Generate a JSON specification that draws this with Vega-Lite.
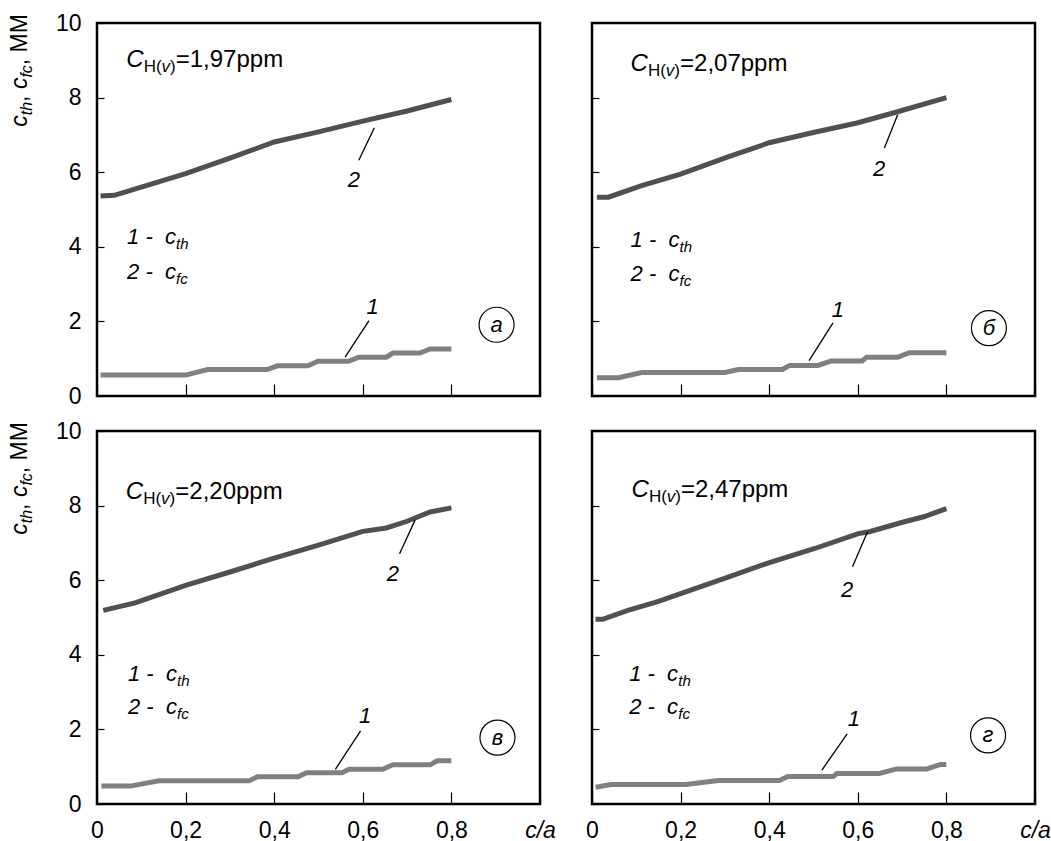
{
"$schema": "https://vega.github.io/schema/vega-lite/v6.json",
"padding": {"left": 8, "top": 10, "right": 5, "bottom": 2},
"background": "white",
"config": {
  "font": "Liberation Sans",
  "view": {"stroke": "black", "strokeWidth": 2.5},
  "axis": {"grid": false, "domain": false, "tickColor": "black", "tickWidth": 1.2, "labelColor": "black", "labelFont": "Liberation Sans", "labelFontSize": 23, "labelOverlap": false, "labelFlush": false, "labelBound": false}
},
"datasets": {
"rows": [
{"p":"a","k":"c","s":"2","x":0.008,"y":5.36},{"p":"a","k":"c","s":"2","x":0.039,"y":5.38},{"p":"a","k":"c","s":"2","x":0.10,"y":5.60},{"p":"a","k":"c","s":"2","x":0.2,"y":5.96},{"p":"a","k":"c","s":"2","x":0.30,"y":6.38},{"p":"a","k":"c","s":"2","x":0.40,"y":6.81},{"p":"a","k":"c","s":"2","x":0.50,"y":7.08},{"p":"a","k":"c","s":"2","x":0.60,"y":7.37},{"p":"a","k":"c","s":"2","x":0.70,"y":7.64},{"p":"a","k":"c","s":"2","x":0.80,"y":7.95},
{"p":"a","k":"c","s":"1","x":0.008,"y":0.56},{"p":"a","k":"c","s":"1","x":0.2,"y":0.56},{"p":"a","k":"c","s":"1","x":0.25,"y":0.71},{"p":"a","k":"c","s":"1","x":0.384,"y":0.71},{"p":"a","k":"c","s":"1","x":0.407,"y":0.81},{"p":"a","k":"c","s":"1","x":0.476,"y":0.81},{"p":"a","k":"c","s":"1","x":0.499,"y":0.93},{"p":"a","k":"c","s":"1","x":0.568,"y":0.93},{"p":"a","k":"c","s":"1","x":0.591,"y":1.04},{"p":"a","k":"c","s":"1","x":0.653,"y":1.04},{"p":"a","k":"c","s":"1","x":0.668,"y":1.15},{"p":"a","k":"c","s":"1","x":0.729,"y":1.15},{"p":"a","k":"c","s":"1","x":0.752,"y":1.26},{"p":"a","k":"c","s":"1","x":0.80,"y":1.26},
{"p":"b","k":"c","s":"2","x":0.011,"y":5.33},{"p":"b","k":"c","s":"2","x":0.037,"y":5.33},{"p":"b","k":"c","s":"2","x":0.112,"y":5.64},{"p":"b","k":"c","s":"2","x":0.2,"y":5.95},{"p":"b","k":"c","s":"2","x":0.307,"y":6.41},{"p":"b","k":"c","s":"2","x":0.4,"y":6.79},{"p":"b","k":"c","s":"2","x":0.502,"y":7.07},{"p":"b","k":"c","s":"2","x":0.598,"y":7.32},{"p":"b","k":"c","s":"2","x":0.69,"y":7.62},{"p":"b","k":"c","s":"2","x":0.8,"y":8.0},
{"p":"b","k":"c","s":"1","x":0.011,"y":0.49},{"p":"b","k":"c","s":"1","x":0.06,"y":0.49},{"p":"b","k":"c","s":"1","x":0.112,"y":0.63},{"p":"b","k":"c","s":"1","x":0.30,"y":0.63},{"p":"b","k":"c","s":"1","x":0.33,"y":0.71},{"p":"b","k":"c","s":"1","x":0.43,"y":0.71},{"p":"b","k":"c","s":"1","x":0.446,"y":0.82},{"p":"b","k":"c","s":"1","x":0.51,"y":0.82},{"p":"b","k":"c","s":"1","x":0.54,"y":0.94},{"p":"b","k":"c","s":"1","x":0.61,"y":0.94},{"p":"b","k":"c","s":"1","x":0.62,"y":1.04},{"p":"b","k":"c","s":"1","x":0.69,"y":1.04},{"p":"b","k":"c","s":"1","x":0.716,"y":1.16},{"p":"b","k":"c","s":"1","x":0.80,"y":1.16},
{"p":"v","k":"c","s":"2","x":0.014,"y":5.19},{"p":"v","k":"c","s":"2","x":0.086,"y":5.39},{"p":"v","k":"c","s":"2","x":0.2,"y":5.86},{"p":"v","k":"c","s":"2","x":0.30,"y":6.22},{"p":"v","k":"c","s":"2","x":0.40,"y":6.59},{"p":"v","k":"c","s":"2","x":0.50,"y":6.94},{"p":"v","k":"c","s":"2","x":0.60,"y":7.31},{"p":"v","k":"c","s":"2","x":0.653,"y":7.40},{"p":"v","k":"c","s":"2","x":0.70,"y":7.58},{"p":"v","k":"c","s":"2","x":0.752,"y":7.83},{"p":"v","k":"c","s":"2","x":0.80,"y":7.94},
{"p":"v","k":"c","s":"1","x":0.01,"y":0.48},{"p":"v","k":"c","s":"1","x":0.075,"y":0.48},{"p":"v","k":"c","s":"1","x":0.14,"y":0.62},{"p":"v","k":"c","s":"1","x":0.343,"y":0.62},{"p":"v","k":"c","s":"1","x":0.362,"y":0.73},{"p":"v","k":"c","s":"1","x":0.454,"y":0.73},{"p":"v","k":"c","s":"1","x":0.473,"y":0.84},{"p":"v","k":"c","s":"1","x":0.553,"y":0.84},{"p":"v","k":"c","s":"1","x":0.569,"y":0.93},{"p":"v","k":"c","s":"1","x":0.645,"y":0.93},{"p":"v","k":"c","s":"1","x":0.668,"y":1.05},{"p":"v","k":"c","s":"1","x":0.752,"y":1.05},{"p":"v","k":"c","s":"1","x":0.768,"y":1.16},{"p":"v","k":"c","s":"1","x":0.80,"y":1.16},
{"p":"g","k":"c","s":"2","x":0.008,"y":4.95},{"p":"g","k":"c","s":"2","x":0.024,"y":4.95},{"p":"g","k":"c","s":"2","x":0.081,"y":5.19},{"p":"g","k":"c","s":"2","x":0.15,"y":5.43},{"p":"g","k":"c","s":"2","x":0.2,"y":5.64},{"p":"g","k":"c","s":"2","x":0.304,"y":6.07},{"p":"g","k":"c","s":"2","x":0.397,"y":6.46},{"p":"g","k":"c","s":"2","x":0.503,"y":6.85},{"p":"g","k":"c","s":"2","x":0.601,"y":7.25},{"p":"g","k":"c","s":"2","x":0.626,"y":7.30},{"p":"g","k":"c","s":"2","x":0.703,"y":7.56},{"p":"g","k":"c","s":"2","x":0.749,"y":7.70},{"p":"g","k":"c","s":"2","x":0.80,"y":7.92},
{"p":"g","k":"c","s":"1","x":0.008,"y":0.45},{"p":"g","k":"c","s":"1","x":0.043,"y":0.52},{"p":"g","k":"c","s":"1","x":0.212,"y":0.52},{"p":"g","k":"c","s":"1","x":0.285,"y":0.63},{"p":"g","k":"c","s":"1","x":0.423,"y":0.63},{"p":"g","k":"c","s":"1","x":0.442,"y":0.74},{"p":"g","k":"c","s":"1","x":0.545,"y":0.74},{"p":"g","k":"c","s":"1","x":0.553,"y":0.82},{"p":"g","k":"c","s":"1","x":0.649,"y":0.82},{"p":"g","k":"c","s":"1","x":0.687,"y":0.94},{"p":"g","k":"c","s":"1","x":0.756,"y":0.94},{"p":"g","k":"c","s":"1","x":0.787,"y":1.06},{"p":"g","k":"c","s":"1","x":0.80,"y":1.06},
{"p":"a","k":"l","x":0.591,"y":6.32,"x2":0.626,"y2":7.19},{"p":"a","k":"l","x":0.614,"y":2.02,"x2":0.56,"y2":1.04},
{"p":"b","k":"l","x":0.66,"y":6.65,"x2":0.69,"y2":7.54},{"p":"b","k":"l","x":0.544,"y":1.96,"x2":0.49,"y2":0.95},
{"p":"v","k":"l","x":0.683,"y":6.71,"x2":0.718,"y2":7.61},{"p":"v","k":"l","x":0.595,"y":1.96,"x2":0.538,"y2":0.93},
{"p":"g","k":"l","x":0.588,"y":6.36,"x2":0.622,"y2":7.30},{"p":"g","k":"l","x":0.576,"y":1.88,"x2":0.519,"y2":0.91},
{"p":"a","k":"n","t":"2","x":0.58,"y":5.78},{"p":"a","k":"n","t":"1","x":0.622,"y":2.38},
{"p":"b","k":"n","t":"2","x":0.648,"y":6.08},{"p":"b","k":"n","t":"1","x":0.555,"y":2.31},
{"p":"v","k":"n","t":"2","x":0.668,"y":6.17},{"p":"v","k":"n","t":"1","x":0.605,"y":2.37},
{"p":"g","k":"n","t":"2","x":0.576,"y":5.73},{"p":"g","k":"n","t":"1","x":0.591,"y":2.28},
{"p":"a","k":"o","t":"а","x":0.902,"y":1.91},{"p":"b","k":"o","t":"б","x":0.896,"y":1.82},{"p":"v","k":"o","t":"в","x":0.904,"y":1.78},{"p":"g","k":"o","t":"г","x":0.894,"y":1.84},
{"p":"a","k":"h","t":"=1,97ppm","x":0.066,"y":8.83},{"p":"b","k":"h","t":"=2,07ppm","x":0.087,"y":8.72},{"p":"v","k":"h","t":"=2,20ppm","x":0.065,"y":8.19},{"p":"g","k":"h","t":"=2,47ppm","x":0.089,"y":8.24},
{"p":"a","k":"g","t":"1 -\u00a0\u00a0c","sub":"th","x":0.068,"y":4.08},{"p":"a","k":"g","t":"2 -\u00a0\u00a0c","sub":"fc","x":0.068,"y":3.15},
{"p":"b","k":"g","t":"1 -\u00a0\u00a0c","sub":"th","x":0.087,"y":4.0},{"p":"b","k":"g","t":"2 -\u00a0\u00a0c","sub":"fc","x":0.087,"y":3.07},
{"p":"v","k":"g","t":"1 -\u00a0\u00a0c","sub":"th","x":0.07,"y":3.31},{"p":"v","k":"g","t":"2 -\u00a0\u00a0c","sub":"fc","x":0.07,"y":2.41},
{"p":"g","k":"g","t":"1 -\u00a0\u00a0c","sub":"th","x":0.084,"y":3.3},{"p":"g","k":"g","t":"2 -\u00a0\u00a0c","sub":"fc","x":0.084,"y":2.4},
{"p":"a","k":"y","x":-0.157,"y":7.22},{"p":"v","k":"y","x":-0.157,"y":7.22}
]
},
"columns": 2,
"spacing": {"row": 35, "column": 52},
"bounds": "flush",
"concat": [
{
"width": 443, "height": 373,
"data": {"name": "rows"},
"transform": [{"filter": "datum.p == 'a'"}],
"encoding": {
  "x": {"field": "x", "type": "quantitative", "scale": {"domain": [0, 1], "nice": false, "zero": false}, "axis": {"values": [0, 0.2, 0.4, 0.6, 0.8, 1], "labels": false, "title": null, "tickSize": -12}},
  "y": {"field": "y", "type": "quantitative", "scale": {"domain": [0, 10], "nice": false}, "axis": {"values": [0, 2, 4, 6, 8, 10], "title": null, "tickSize": -7, "labelPadding": 23}}
},
"layer": [
  {"transform": [{"filter": "datum.k == 'c'"}], "mark": {"type": "line", "strokeWidth": 5, "strokeCap": "butt"}, "encoding": {"color": {"field": "s", "type": "nominal", "scale": {"domain": ["1", "2"], "range": ["#808080", "#505050"]}, "legend": null}}},
  {"transform": [{"filter": "datum.k == 'l'"}], "mark": {"type": "rule", "color": "black", "strokeWidth": 1.3}, "encoding": {"x2": {"field": "x2"}, "y2": {"field": "y2"}}},
  {"transform": [{"filter": "datum.k == 'n'"}], "mark": {"type": "text", "fontSize": 22, "fontStyle": "italic", "align": "center", "baseline": "middle", "color": "black"}, "encoding": {"text": {"field": "t"}}},
  {"transform": [{"filter": "datum.k == 'o'"}], "mark": {"type": "point", "shape": "circle", "size": 1225, "filled": false, "stroke": "black", "strokeWidth": 1.2, "opacity": 1}},
  {"transform": [{"filter": "datum.k == 'o'"}], "mark": {"type": "text", "fontSize": 22, "fontStyle": "italic", "align": "center", "baseline": "middle", "color": "black"}, "encoding": {"text": {"field": "t"}}},
  {"transform": [{"filter": "datum.k == 'h'"}], "mark": {"type": "text", "text": "C", "fontSize": 24, "fontStyle": "italic", "align": "left", "baseline": "alphabetic", "color": "black"}},
  {"transform": [{"filter": "datum.k == 'h'"}], "mark": {"type": "text", "text": "H(", "fontSize": 17, "align": "left", "baseline": "alphabetic", "dx": 17.5, "dy": 5, "color": "black"}},
  {"transform": [{"filter": "datum.k == 'h'"}], "mark": {"type": "text", "text": "v", "fontSize": 17, "fontStyle": "italic", "align": "left", "baseline": "alphabetic", "dx": 35.3, "dy": 5, "color": "black"}},
  {"transform": [{"filter": "datum.k == 'h'"}], "mark": {"type": "text", "text": ")", "fontSize": 17, "align": "left", "baseline": "alphabetic", "dx": 43.8, "dy": 5, "color": "black"}},
  {"transform": [{"filter": "datum.k == 'h'"}], "mark": {"type": "text", "fontSize": 24, "align": "left", "baseline": "alphabetic", "dx": 49.5, "color": "black"}, "encoding": {"text": {"field": "t"}}},
  {"transform": [{"filter": "datum.k == 'g'"}], "mark": {"type": "text", "fontSize": 22, "fontStyle": "italic", "align": "left", "baseline": "alphabetic", "color": "black"}, "encoding": {"text": {"field": "t"}}},
  {"transform": [{"filter": "datum.k == 'g'"}], "mark": {"type": "text", "fontSize": 15, "fontStyle": "italic", "align": "left", "baseline": "alphabetic", "dx": 49, "dy": 5, "color": "black"}, "encoding": {"text": {"field": "sub"}}},
  {"transform": [{"filter": "datum.k == 'y'"}], "mark": {"type": "text", "text": "c", "angle": 270, "fontSize": 23, "fontStyle": "italic", "align": "left", "baseline": "alphabetic", "color": "black"}},
  {"transform": [{"filter": "datum.k == 'y'"}], "mark": {"type": "text", "text": "th", "angle": 270, "fontSize": 16, "fontStyle": "italic", "align": "left", "baseline": "alphabetic", "dx": 11.5, "dy": 5, "color": "black"}},
  {"transform": [{"filter": "datum.k == 'y'"}], "mark": {"type": "text", "text": ",", "angle": 270, "fontSize": 23, "align": "left", "baseline": "alphabetic", "dx": 24.8, "color": "black"}},
  {"transform": [{"filter": "datum.k == 'y'"}], "mark": {"type": "text", "text": "c", "angle": 270, "fontSize": 23, "fontStyle": "italic", "align": "left", "baseline": "alphabetic", "dx": 37.6, "color": "black"}},
  {"transform": [{"filter": "datum.k == 'y'"}], "mark": {"type": "text", "text": "fc", "angle": 270, "fontSize": 16, "fontStyle": "italic", "align": "left", "baseline": "alphabetic", "dx": 49.1, "dy": 5, "color": "black"}},
  {"transform": [{"filter": "datum.k == 'y'"}], "mark": {"type": "text", "text": ", ММ", "angle": 270, "fontSize": 23, "align": "left", "baseline": "alphabetic", "dx": 61.5, "color": "black"}}
]
},
{
"width": 443, "height": 373,
"data": {"name": "rows"},
"transform": [{"filter": "datum.p == 'b'"}],
"encoding": {
  "x": {"field": "x", "type": "quantitative", "scale": {"domain": [0, 1], "nice": false, "zero": false}, "axis": {"values": [0, 0.2, 0.4, 0.6, 0.8, 1], "labels": false, "title": null, "tickSize": -12}},
  "y": {"field": "y", "type": "quantitative", "scale": {"domain": [0, 10], "nice": false}, "axis": {"values": [0, 2, 4, 6, 8, 10], "labels": false, "title": null, "tickSize": -7}}
},
"layer": [
  {"transform": [{"filter": "datum.k == 'c'"}], "mark": {"type": "line", "strokeWidth": 5, "strokeCap": "butt"}, "encoding": {"color": {"field": "s", "type": "nominal", "scale": {"domain": ["1", "2"], "range": ["#808080", "#505050"]}, "legend": null}}},
  {"transform": [{"filter": "datum.k == 'l'"}], "mark": {"type": "rule", "color": "black", "strokeWidth": 1.3}, "encoding": {"x2": {"field": "x2"}, "y2": {"field": "y2"}}},
  {"transform": [{"filter": "datum.k == 'n'"}], "mark": {"type": "text", "fontSize": 22, "fontStyle": "italic", "align": "center", "baseline": "middle", "color": "black"}, "encoding": {"text": {"field": "t"}}},
  {"transform": [{"filter": "datum.k == 'o'"}], "mark": {"type": "point", "shape": "circle", "size": 1225, "filled": false, "stroke": "black", "strokeWidth": 1.2, "opacity": 1}},
  {"transform": [{"filter": "datum.k == 'o'"}], "mark": {"type": "text", "fontSize": 22, "fontStyle": "italic", "align": "center", "baseline": "middle", "color": "black"}, "encoding": {"text": {"field": "t"}}},
  {"transform": [{"filter": "datum.k == 'h'"}], "mark": {"type": "text", "text": "C", "fontSize": 24, "fontStyle": "italic", "align": "left", "baseline": "alphabetic", "color": "black"}},
  {"transform": [{"filter": "datum.k == 'h'"}], "mark": {"type": "text", "text": "H(", "fontSize": 17, "align": "left", "baseline": "alphabetic", "dx": 17.5, "dy": 5, "color": "black"}},
  {"transform": [{"filter": "datum.k == 'h'"}], "mark": {"type": "text", "text": "v", "fontSize": 17, "fontStyle": "italic", "align": "left", "baseline": "alphabetic", "dx": 35.3, "dy": 5, "color": "black"}},
  {"transform": [{"filter": "datum.k == 'h'"}], "mark": {"type": "text", "text": ")", "fontSize": 17, "align": "left", "baseline": "alphabetic", "dx": 43.8, "dy": 5, "color": "black"}},
  {"transform": [{"filter": "datum.k == 'h'"}], "mark": {"type": "text", "fontSize": 24, "align": "left", "baseline": "alphabetic", "dx": 49.5, "color": "black"}, "encoding": {"text": {"field": "t"}}},
  {"transform": [{"filter": "datum.k == 'g'"}], "mark": {"type": "text", "fontSize": 22, "fontStyle": "italic", "align": "left", "baseline": "alphabetic", "color": "black"}, "encoding": {"text": {"field": "t"}}},
  {"transform": [{"filter": "datum.k == 'g'"}], "mark": {"type": "text", "fontSize": 15, "fontStyle": "italic", "align": "left", "baseline": "alphabetic", "dx": 49, "dy": 5, "color": "black"}, "encoding": {"text": {"field": "sub"}}}
]
},
{
"width": 443, "height": 373,
"data": {"name": "rows"},
"transform": [{"filter": "datum.p == 'v'"}],
"encoding": {
  "x": {"field": "x", "type": "quantitative", "scale": {"domain": [0, 1], "nice": false, "zero": false}, "axis": {"values": [0, 0.2, 0.4, 0.6, 0.8, 1], "title": null, "tickSize": -12, "labelPadding": 27, "labelExpr": "datum.value == 1 ? 'c/a' : datum.value == 0 ? '0' : replace(format(datum.value, '.1f'), '.', ',')", "labelFontStyle": {"condition": {"test": "datum.value == 1", "value": "italic"}, "value": "normal"}}},
  "y": {"field": "y", "type": "quantitative", "scale": {"domain": [0, 10], "nice": false}, "axis": {"values": [0, 2, 4, 6, 8, 10], "title": null, "tickSize": -7, "labelPadding": 23}}
},
"layer": [
  {"transform": [{"filter": "datum.k == 'c'"}], "mark": {"type": "line", "strokeWidth": 5, "strokeCap": "butt"}, "encoding": {"color": {"field": "s", "type": "nominal", "scale": {"domain": ["1", "2"], "range": ["#808080", "#505050"]}, "legend": null}}},
  {"transform": [{"filter": "datum.k == 'l'"}], "mark": {"type": "rule", "color": "black", "strokeWidth": 1.3}, "encoding": {"x2": {"field": "x2"}, "y2": {"field": "y2"}}},
  {"transform": [{"filter": "datum.k == 'n'"}], "mark": {"type": "text", "fontSize": 22, "fontStyle": "italic", "align": "center", "baseline": "middle", "color": "black"}, "encoding": {"text": {"field": "t"}}},
  {"transform": [{"filter": "datum.k == 'o'"}], "mark": {"type": "point", "shape": "circle", "size": 1225, "filled": false, "stroke": "black", "strokeWidth": 1.2, "opacity": 1}},
  {"transform": [{"filter": "datum.k == 'o'"}], "mark": {"type": "text", "fontSize": 22, "fontStyle": "italic", "align": "center", "baseline": "middle", "color": "black"}, "encoding": {"text": {"field": "t"}}},
  {"transform": [{"filter": "datum.k == 'h'"}], "mark": {"type": "text", "text": "C", "fontSize": 24, "fontStyle": "italic", "align": "left", "baseline": "alphabetic", "color": "black"}},
  {"transform": [{"filter": "datum.k == 'h'"}], "mark": {"type": "text", "text": "H(", "fontSize": 17, "align": "left", "baseline": "alphabetic", "dx": 17.5, "dy": 5, "color": "black"}},
  {"transform": [{"filter": "datum.k == 'h'"}], "mark": {"type": "text", "text": "v", "fontSize": 17, "fontStyle": "italic", "align": "left", "baseline": "alphabetic", "dx": 35.3, "dy": 5, "color": "black"}},
  {"transform": [{"filter": "datum.k == 'h'"}], "mark": {"type": "text", "text": ")", "fontSize": 17, "align": "left", "baseline": "alphabetic", "dx": 43.8, "dy": 5, "color": "black"}},
  {"transform": [{"filter": "datum.k == 'h'"}], "mark": {"type": "text", "fontSize": 24, "align": "left", "baseline": "alphabetic", "dx": 49.5, "color": "black"}, "encoding": {"text": {"field": "t"}}},
  {"transform": [{"filter": "datum.k == 'g'"}], "mark": {"type": "text", "fontSize": 22, "fontStyle": "italic", "align": "left", "baseline": "alphabetic", "color": "black"}, "encoding": {"text": {"field": "t"}}},
  {"transform": [{"filter": "datum.k == 'g'"}], "mark": {"type": "text", "fontSize": 15, "fontStyle": "italic", "align": "left", "baseline": "alphabetic", "dx": 49, "dy": 5, "color": "black"}, "encoding": {"text": {"field": "sub"}}},
  {"transform": [{"filter": "datum.k == 'y'"}], "mark": {"type": "text", "text": "c", "angle": 270, "fontSize": 23, "fontStyle": "italic", "align": "left", "baseline": "alphabetic", "color": "black"}},
  {"transform": [{"filter": "datum.k == 'y'"}], "mark": {"type": "text", "text": "th", "angle": 270, "fontSize": 16, "fontStyle": "italic", "align": "left", "baseline": "alphabetic", "dx": 11.5, "dy": 5, "color": "black"}},
  {"transform": [{"filter": "datum.k == 'y'"}], "mark": {"type": "text", "text": ",", "angle": 270, "fontSize": 23, "align": "left", "baseline": "alphabetic", "dx": 24.8, "color": "black"}},
  {"transform": [{"filter": "datum.k == 'y'"}], "mark": {"type": "text", "text": "c", "angle": 270, "fontSize": 23, "fontStyle": "italic", "align": "left", "baseline": "alphabetic", "dx": 37.6, "color": "black"}},
  {"transform": [{"filter": "datum.k == 'y'"}], "mark": {"type": "text", "text": "fc", "angle": 270, "fontSize": 16, "fontStyle": "italic", "align": "left", "baseline": "alphabetic", "dx": 49.1, "dy": 5, "color": "black"}},
  {"transform": [{"filter": "datum.k == 'y'"}], "mark": {"type": "text", "text": ", ММ", "angle": 270, "fontSize": 23, "align": "left", "baseline": "alphabetic", "dx": 61.5, "color": "black"}}
]
},
{
"width": 443, "height": 373,
"data": {"name": "rows"},
"transform": [{"filter": "datum.p == 'g'"}],
"encoding": {
  "x": {"field": "x", "type": "quantitative", "scale": {"domain": [0, 1], "nice": false, "zero": false}, "axis": {"values": [0, 0.2, 0.4, 0.6, 0.8, 1], "title": null, "tickSize": -12, "labelPadding": 27, "labelExpr": "datum.value == 1 ? 'c/a' : datum.value == 0 ? '0' : replace(format(datum.value, '.1f'), '.', ',')", "labelFontStyle": {"condition": {"test": "datum.value == 1", "value": "italic"}, "value": "normal"}}},
  "y": {"field": "y", "type": "quantitative", "scale": {"domain": [0, 10], "nice": false}, "axis": {"values": [0, 2, 4, 6, 8, 10], "labels": false, "title": null, "tickSize": -7}}
},
"layer": [
  {"transform": [{"filter": "datum.k == 'c'"}], "mark": {"type": "line", "strokeWidth": 5, "strokeCap": "butt"}, "encoding": {"color": {"field": "s", "type": "nominal", "scale": {"domain": ["1", "2"], "range": ["#808080", "#505050"]}, "legend": null}}},
  {"transform": [{"filter": "datum.k == 'l'"}], "mark": {"type": "rule", "color": "black", "strokeWidth": 1.3}, "encoding": {"x2": {"field": "x2"}, "y2": {"field": "y2"}}},
  {"transform": [{"filter": "datum.k == 'n'"}], "mark": {"type": "text", "fontSize": 22, "fontStyle": "italic", "align": "center", "baseline": "middle", "color": "black"}, "encoding": {"text": {"field": "t"}}},
  {"transform": [{"filter": "datum.k == 'o'"}], "mark": {"type": "point", "shape": "circle", "size": 1225, "filled": false, "stroke": "black", "strokeWidth": 1.2, "opacity": 1}},
  {"transform": [{"filter": "datum.k == 'o'"}], "mark": {"type": "text", "fontSize": 22, "fontStyle": "italic", "align": "center", "baseline": "middle", "color": "black"}, "encoding": {"text": {"field": "t"}}},
  {"transform": [{"filter": "datum.k == 'h'"}], "mark": {"type": "text", "text": "C", "fontSize": 24, "fontStyle": "italic", "align": "left", "baseline": "alphabetic", "color": "black"}},
  {"transform": [{"filter": "datum.k == 'h'"}], "mark": {"type": "text", "text": "H(", "fontSize": 17, "align": "left", "baseline": "alphabetic", "dx": 17.5, "dy": 5, "color": "black"}},
  {"transform": [{"filter": "datum.k == 'h'"}], "mark": {"type": "text", "text": "v", "fontSize": 17, "fontStyle": "italic", "align": "left", "baseline": "alphabetic", "dx": 35.3, "dy": 5, "color": "black"}},
  {"transform": [{"filter": "datum.k == 'h'"}], "mark": {"type": "text", "text": ")", "fontSize": 17, "align": "left", "baseline": "alphabetic", "dx": 43.8, "dy": 5, "color": "black"}},
  {"transform": [{"filter": "datum.k == 'h'"}], "mark": {"type": "text", "fontSize": 24, "align": "left", "baseline": "alphabetic", "dx": 49.5, "color": "black"}, "encoding": {"text": {"field": "t"}}},
  {"transform": [{"filter": "datum.k == 'g'"}], "mark": {"type": "text", "fontSize": 22, "fontStyle": "italic", "align": "left", "baseline": "alphabetic", "color": "black"}, "encoding": {"text": {"field": "t"}}},
  {"transform": [{"filter": "datum.k == 'g'"}], "mark": {"type": "text", "fontSize": 15, "fontStyle": "italic", "align": "left", "baseline": "alphabetic", "dx": 49, "dy": 5, "color": "black"}, "encoding": {"text": {"field": "sub"}}}
]
}
]
}
